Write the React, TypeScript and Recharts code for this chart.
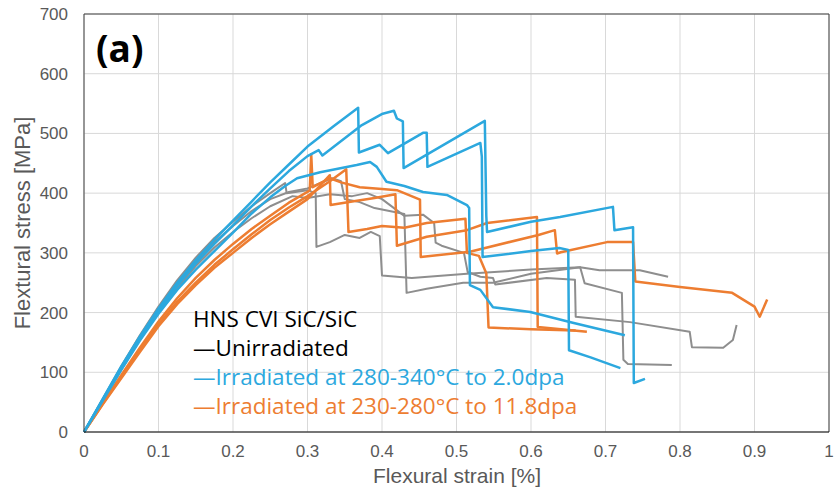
import { LineChart, Line, XAxis, YAxis, CartesianGrid, ReferenceLine } from "recharts";

type Pt = [number, number];

const strainTicks = [0, 0.1, 0.2, 0.3, 0.4, 0.5, 0.6, 0.7, 0.8, 0.9, 1];
const stressTicks = [0, 100, 200, 300, 400, 500, 600, 700];

// unirradiated (grey)
const unirrA: Pt[] = [
  [0, 0], [0.025, 55], [0.05, 110], [0.075, 162], [0.1, 210], [0.125, 254], [0.15, 292], [0.175, 325],
  [0.2, 352], [0.225, 378], [0.25, 400], [0.27, 417], [0.272, 400],
  [0.3, 405], [0.311, 400], [0.312, 310], [0.33, 318], [0.35, 330], [0.37, 325], [0.385, 335],
  [0.397, 328], [0.4, 262], [0.44, 258], [0.514, 265], [0.6, 272], [0.666, 276], [0.692, 271],
  [0.746, 271], [0.784, 260],
];
const unirrB: Pt[] = [
  [0, 0], [0.025, 54], [0.05, 107], [0.075, 158], [0.1, 205], [0.125, 248], [0.15, 285], [0.175, 318],
  [0.2, 345], [0.225, 370], [0.25, 390], [0.275, 402], [0.3, 408], [0.333, 425],
  [0.345, 420], [0.35, 390], [0.37, 385], [0.39, 375], [0.41, 370], [0.43, 365], [0.433, 233],
  [0.46, 240], [0.509, 250], [0.549, 250], [0.6, 265], [0.666, 276], [0.672, 249], [0.722, 233],
  [0.724, 121], [0.73, 114], [0.789, 112],
];
const unirrC: Pt[] = [
  [0, 0], [0.025, 52], [0.05, 104], [0.075, 154], [0.1, 200], [0.125, 241], [0.15, 278], [0.175, 309],
  [0.2, 335], [0.225, 358], [0.25, 378], [0.28, 395], [0.3, 392],
  [0.33, 398], [0.36, 395], [0.38, 400], [0.4, 390], [0.43, 362], [0.455, 364], [0.47, 350],
  [0.472, 317], [0.48, 312], [0.51, 300], [0.515, 268], [0.532, 260], [0.549, 258], [0.552, 247],
  [0.621, 258], [0.659, 255], [0.66, 193], [0.733, 184], [0.813, 168], [0.816, 142], [0.858, 141],
  [0.871, 154], [0.876, 179],
];

// irradiated 280-340C, 2.0dpa (blue)
const lowDoseA: Pt[] = [
  [0, 0], [0.025, 55], [0.05, 110], [0.075, 160], [0.1, 207], [0.125, 250], [0.15, 288], [0.175, 322],
  [0.2, 354], [0.225, 386], [0.25, 418], [0.275, 448], [0.3, 478], [0.335, 512], [0.368, 543],
  [0.369, 468], [0.397, 481], [0.408, 467], [0.455, 501], [0.46, 501], [0.461, 444], [0.532, 484],
  [0.534, 461], [0.535, 293], [0.6, 303], [0.638, 308], [0.65, 305], [0.651, 137], [0.68, 125],
  [0.72, 107],
];
const lowDoseB: Pt[] = [
  [0, 0], [0.025, 54], [0.05, 108], [0.075, 157], [0.1, 203], [0.125, 245], [0.15, 282], [0.175, 315],
  [0.2, 346], [0.225, 378], [0.25, 408], [0.275, 437], [0.3, 462], [0.315, 472],
  [0.32, 463], [0.373, 514], [0.401, 533], [0.416, 538], [0.42, 525], [0.428, 520], [0.429, 442],
  [0.538, 521], [0.54, 362], [0.541, 335], [0.6, 352], [0.639, 360], [0.71, 377], [0.712, 338],
  [0.737, 343], [0.738, 82], [0.753, 89],
];
const lowDoseC: Pt[] = [
  [0, 0], [0.025, 52], [0.05, 104], [0.075, 153], [0.1, 198], [0.125, 238], [0.15, 272], [0.175, 303],
  [0.2, 334], [0.225, 366], [0.25, 393], [0.27, 412], [0.286, 425], [0.317, 435],
  [0.366, 447], [0.384, 452], [0.393, 444], [0.406, 419], [0.43, 412], [0.455, 402], [0.487, 397],
  [0.514, 380], [0.517, 375], [0.518, 246], [0.532, 238], [0.549, 209], [0.599, 201], [0.656, 183],
  [0.726, 162],
];

// irradiated 230-280C, 11.8dpa (orange)
const highDoseA: Pt[] = [
  [0, 0], [0.025, 48], [0.05, 95], [0.075, 141], [0.1, 185], [0.125, 224], [0.15, 258], [0.175, 288],
  [0.2, 315], [0.225, 340], [0.25, 362], [0.275, 384], [0.3, 402], [0.303, 405],
  [0.305, 465], [0.307, 410], [0.33, 425], [0.345, 418], [0.37, 410], [0.4, 407], [0.42, 405],
  [0.451, 389], [0.452, 293], [0.518, 302], [0.61, 330], [0.632, 338], [0.635, 299], [0.64, 301],
  [0.702, 318], [0.737, 318], [0.74, 252], [0.8, 243], [0.87, 233], [0.9, 210], [0.907, 193],
  [0.917, 222],
];
const highDoseB: Pt[] = [
  [0, 0], [0.025, 47], [0.05, 92], [0.075, 137], [0.1, 180], [0.125, 218], [0.15, 250], [0.175, 280],
  [0.2, 306], [0.225, 331], [0.25, 355], [0.275, 376], [0.3, 395], [0.33, 420],
  [0.352, 440], [0.355, 335], [0.38, 340], [0.4, 345], [0.43, 342], [0.46, 350], [0.512, 357],
  [0.514, 300], [0.53, 295], [0.54, 266], [0.543, 175], [0.6, 172], [0.66, 170],
];
const highDoseC: Pt[] = [
  [0, 0], [0.025, 46], [0.05, 90], [0.075, 134], [0.1, 177], [0.125, 214], [0.15, 246], [0.175, 275],
  [0.2, 300], [0.225, 325], [0.25, 348], [0.275, 369], [0.3, 390], [0.33, 430],
  [0.331, 380], [0.36, 386], [0.39, 392], [0.418, 398], [0.42, 312], [0.46, 327], [0.514, 338],
  [0.541, 350], [0.608, 360], [0.609, 176], [0.675, 168],
];

const GREY = "#8e8e8e";
const BLUE = "#2ca8de";
const ORANGE = "#ed7d31";

const series = [
  { id: "u1", pts: unirrA, color: GREY, w: 2 },
  { id: "u2", pts: unirrB, color: GREY, w: 2 },
  { id: "u3", pts: unirrC, color: GREY, w: 2 },
  { id: "h1", pts: highDoseA, color: ORANGE, w: 2.5 },
  { id: "h2", pts: highDoseB, color: ORANGE, w: 2.5 },
  { id: "h3", pts: highDoseC, color: ORANGE, w: 2.5 },
  { id: "l1", pts: lowDoseA, color: BLUE, w: 2.5 },
  { id: "l2", pts: lowDoseB, color: BLUE, w: 2.5 },
  { id: "l3", pts: lowDoseC, color: BLUE, w: 2.5 },
];

const toRows = (pts: Pt[]) => pts.map(([strain, stress]) => ({ strain, stress }));

const axisFont = "'Liberation Sans', Arial, sans-serif";
const noteFont = "'Open Sans', sans-serif";

export default function App() {
  return (
    <div style={{ position: "relative", width: 834, height: 499, background: "#fff" }}>
      <style>{`body{margin:0}`}</style>
      <LineChart width={834} height={499} margin={{ top: 14, right: 5, bottom: 0, left: 0 }}>
        <CartesianGrid stroke="#d9d9d9" strokeWidth={1} />
        <XAxis
          type="number"
          dataKey="strain"
          domain={[0, 1]}
          ticks={strainTicks}
          tickFormatter={(v) => String(v)}
          height={67}
          tickLine={false}
          tickMargin={7}
          stroke="#000"
          tick={{ fill: "#595959", fontSize: 17, fontFamily: axisFont }}
          allowDuplicatedCategory={false}
        />
        <YAxis
          type="number"
          domain={[0, 700]}
          ticks={stressTicks}
          width={84}
          tickLine={false}
          tickMargin={10}
          stroke="#404040"
          tick={{ fill: "#595959", fontSize: 17, fontFamily: axisFont }}
        />
        <ReferenceLine y={700} stroke="#404040" />
        <ReferenceLine x={1} stroke="#404040" />
        {series.map((s) => (
          <Line
            key={s.id}
            data={toRows(s.pts)}
            dataKey="stress"
            type="linear"
            stroke={s.color}
            strokeWidth={s.w}
            strokeLinejoin="round"
            dot={false}
            isAnimationActive={false}
          />
        ))}
      </LineChart>

      <div style={{ position: "absolute", left: 96, top: 22, fontFamily: noteFont, fontWeight: 700, fontSize: 37, color: "#000" }}>
        (a)
      </div>

      <div style={{ position: "absolute", left: 193, top: 304, fontFamily: noteFont, fontSize: 22.5, lineHeight: "29px", whiteSpace: "nowrap" }}>
        <div style={{ color: "#000" }}>HNS CVI SiC/SiC</div>
        <div style={{ color: "#000" }}>—Unirradiated</div>
        <div style={{ color: BLUE }}>—Irradiated at 280-340°C to 2.0dpa</div>
        <div style={{ color: ORANGE }}>—Irradiated at 230-280°C to 11.8dpa</div>
      </div>

      <div style={{ position: "absolute", left: 0, width: 914, top: 464, textAlign: "center", fontFamily: axisFont, fontSize: 21, color: "#595959" }}>
        Flexural strain [%]
      </div>

      <div
        style={{
          position: "absolute",
          left: 23,
          top: 223,
          transform: "translate(-50%, -50%) rotate(-90deg)",
          fontFamily: axisFont,
          fontSize: 22,
          color: "#595959",
          whiteSpace: "nowrap",
        }}
      >
        Flextural stress [MPa]
      </div>
    </div>
  );
}
